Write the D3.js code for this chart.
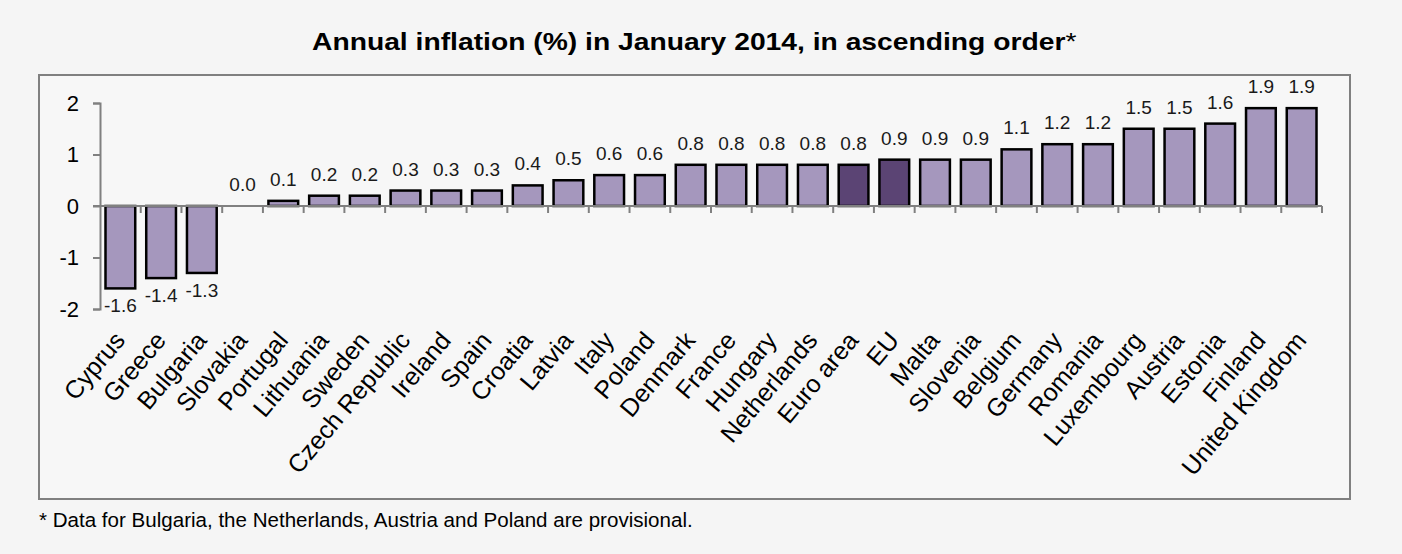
<!DOCTYPE html>
<html>
<head>
<meta charset="utf-8">
<title>Annual inflation January 2014</title>
<script src="https://d3js.org/d3.v7.min.js"></script>
<style>
	html, body { margin: 0; padding: 0; background: #f5f5f5; }
	svg { display: block; font-family: "Liberation Sans", Arial, sans-serif; }
	.axis path, .axis line { stroke: #808080; stroke-width: 2; }
	.bar { stroke: #000; stroke-width: 2.5; }
	.label { font-size: 19px; fill: #1a1a1a; }
	.cat { font-size: 25px; fill: #000; }
	.ytick { font-size: 22px; fill: #000; }
</style>
</head>
<body>
<div class="chart"></div>
<script>
var countries = ["Cyprus", "Greece", "Bulgaria", "Slovakia", "Portugal", "Lithuania", "Sweden",
	"Czech Republic", "Ireland", "Spain", "Croatia", "Latvia", "Italy", "Poland", "Denmark",
	"France", "Hungary", "Netherlands", "Euro area", "EU", "Malta", "Slovenia", "Belgium",
	"Germany", "Romania", "Luxembourg", "Austria", "Estonia", "Finland", "United Kingdom"];

var inflation = [-1.6, -1.4, -1.3, 0.0, 0.1, 0.2, 0.2, 0.3, 0.3, 0.3, 0.4, 0.5, 0.6, 0.6, 0.8,
	0.8, 0.8, 0.8, 0.8, 0.9, 0.9, 0.9, 1.1, 1.2, 1.2, 1.5, 1.5, 1.6, 1.9, 1.9];

var aggregates = ["Euro area", "EU"];

var yTicks = [-2, -1, 0, 1, 2];

var titleText = "Annual inflation (%) in January 2014, in ascending order";
var noteText = "* Data for Bulgaria, the Netherlands, Austria and Poland are provisional.";

drawChart('.chart');

// widen a text so it spans the same width as in the original picture
function fitWidth(sel, x, y, width) {
	var len = sel.node().getComputedTextLength();
	sel.attr('transform', 'translate(' + x + ',' + y + ') scale(' + (width / len) + ',1)');
}

function drawChart(element) {
	var W = 1402, H = 554,
		plot = { left: 100, right: 1322, top: 103, bottom: 309 },
		frame = { left: 39, top: 75, right: 1350, bottom: 499 };

	var svg = d3.select(element).append('svg')
		.attr('width', W)
		.attr('height', H);

	svg.append('rect')
		.attr('width', W)
		.attr('height', H)
		.attr('fill', '#f5f5f5');

	// outer frame
	svg.append('rect')
		.attr('x', frame.left)
		.attr('y', frame.top)
		.attr('width', frame.right - frame.left)
		.attr('height', frame.bottom - frame.top)
		.attr('fill', '#f7f7f7')
		.attr('stroke', '#808080')
		.attr('stroke-width', 2);

	var title = svg.append('text')
		.style('font-size', '23px')
		.style('font-weight', 'bold')
		.text(titleText);
	title.append('tspan')
		.style('font-weight', 'normal')
		.text('*');
	fitWidth(title, 312, 50, 765);

	var note = svg.append('text')
		.style('font-size', '19.5px')
		.text(noteText);
	fitWidth(note, frame.left, 527, 654);

	var x = d3.scaleBand()
		.domain(countries)
		.range([plot.left, plot.right])
		.paddingInner(0.27)
		.paddingOuter(0.135);

	var xTicks = d3.scaleBand()
		.domain(countries)
		.range([plot.left, plot.right]);

	var y = d3.scaleLinear()
		.domain([-2, 2])
		.range([plot.bottom, plot.top]);

	var g = svg.append('g');

	// bars
	g.selectAll('rect.bar')
		.data(countries)
		.enter().append('rect')
		.attr('class', 'bar')
		.attr('x', function(d) { return x(d); })
		.attr('width', x.bandwidth())
		.attr('y', function(d, i) { return y(Math.max(0, inflation[i])); })
		.attr('height', function(d, i) { return Math.abs(y(inflation[i]) - y(0)); })
		.attr('fill', function(d) {
			return aggregates.indexOf(d) > -1 ? '#5b4474' : '#a597bd';
		})
		.style('display', function(d, i) { return inflation[i] === 0 ? 'none' : null; });

	// x axis along zero
	var xAxis = g.append('g')
		.attr('class', 'axis')
		.attr('transform', 'translate(0,' + y(0) + ')');
	xAxis.append('line')
		.attr('x1', plot.left - 7)
		.attr('x2', plot.right)
		.attr('y1', 0)
		.attr('y2', 0);
	xAxis.selectAll('line.tick')
		.data(countries)
		.enter().append('line')
		.attr('class', 'tick')
		.attr('x1', function(d) { return xTicks(d) + xTicks.bandwidth(); })
		.attr('x2', function(d) { return xTicks(d) + xTicks.bandwidth(); })
		.attr('y1', 0)
		.attr('y2', 7);

	// y axis
	var yAxis = g.append('g')
		.attr('class', 'axis')
		.attr('transform', 'translate(' + plot.left + ',0)')
		.call(d3.axisLeft(y).tickValues(yTicks).tickSize(7).tickSizeOuter(7).tickFormat(''));
	yAxis.select('.domain').attr('fill', 'none');

	g.selectAll('text.ytick')
		.data(yTicks)
		.enter().append('text')
		.attr('class', 'ytick')
		.attr('x', 79)
		.attr('y', function(d) { return y(d); })
		.attr('dy', '0.36em')
		.attr('text-anchor', 'end')
		.text(function(d) { return d; });

	// value labels
	g.selectAll('text.label')
		.data(countries)
		.enter().append('text')
		.attr('class', 'label')
		.attr('text-anchor', 'middle')
		.attr('x', function(d) { return x(d) + x.bandwidth() / 2; })
		.attr('y', function(d, i) {
			var v = inflation[i];
			return v < 0 ? y(v) + 24 : y(v) - 15;
		})
		.text(function(d, i) { return inflation[i].toFixed(1); });

	// category labels
	g.selectAll('text.cat')
		.data(countries)
		.enter().append('text')
		.attr('class', 'cat')
		.attr('text-anchor', 'end')
		.attr('transform', function(d) {
			return 'translate(' + (x(d) + x.bandwidth() / 2 + 6) + ',341) rotate(-50)';
		})
		.text(function(d) { return d; });
}
</script>
</body>
</html>
